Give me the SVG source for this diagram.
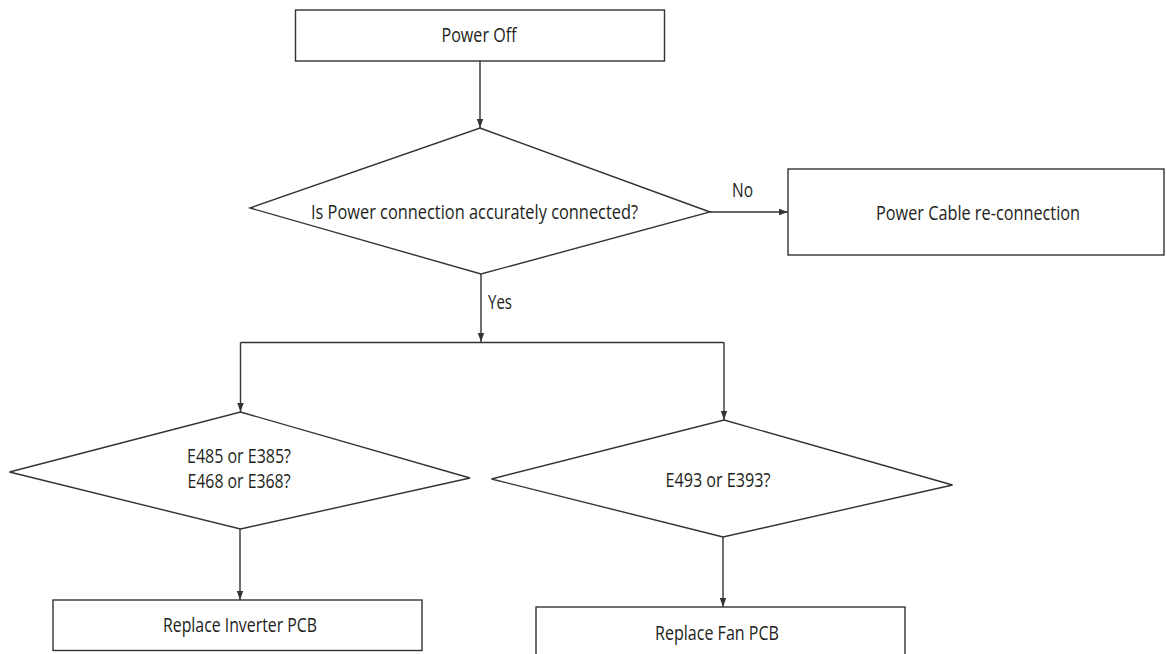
<svg xmlns="http://www.w3.org/2000/svg" width="1167" height="654" viewBox="0 0 1167 654">
<style>
.shape{fill:#ffffff;stroke:#333333;stroke-width:1.4}
.conn{fill:none;stroke:#333333;stroke-width:1.4}
.t{font-family:"Open Sans","Liberation Sans",sans-serif;font-size:20px;fill:#231f20;text-anchor:middle}
</style>
<defs>
<marker id="arr" markerUnits="userSpaceOnUse" markerWidth="10" markerHeight="8" refX="9" refY="4" orient="auto">
<path d="M0,0.8 L9,4 L0,7.2 Z" fill="#333333"/>
</marker>
</defs>
<rect width="1167" height="654" fill="#ffffff"/>
<g id="connectors">
<path class="conn" d="M480,61 V128" marker-end="url(#arr)"/>
<path class="conn" d="M710,212 H788" marker-end="url(#arr)"/>
<path class="conn" d="M481,274 V342" marker-end="url(#arr)"/>
<path class="conn" d="M240.5,342.5 H724"/>
<path class="conn" d="M240.5,342.5 V412" marker-end="url(#arr)"/>
<path class="conn" d="M724,342.5 V420" marker-end="url(#arr)"/>
<path class="conn" d="M240,529 V600" marker-end="url(#arr)"/>
<path class="conn" d="M723,537 V607" marker-end="url(#arr)"/>
<text class="t" x="742.5" y="197" textLength="21" lengthAdjust="spacingAndGlyphs">No</text>
<text class="t" x="500" y="309" textLength="24" lengthAdjust="spacingAndGlyphs">Yes</text>
</g>
<g id="power-off">
<rect class="shape" x="295.5" y="10" width="369" height="51"/>
<text class="t" x="479" y="42" textLength="75" lengthAdjust="spacingAndGlyphs">Power Off</text>
</g>
<g id="check-connection">
<polygon class="shape" points="480,128 710,212 481,274 250,208"/>
<text class="t" x="474.5" y="219" textLength="327" lengthAdjust="spacingAndGlyphs">Is Power connection accurately connected?</text>
</g>
<g id="power-cable">
<rect class="shape" x="788" y="169" width="376" height="86"/>
<text class="t" x="978" y="220" textLength="204" lengthAdjust="spacingAndGlyphs">Power Cable re-connection</text>
</g>
<g id="check-inverter">
<polygon class="shape" points="240.5,412 470,478 240.5,529 9.5,472"/>
<text class="t" x="239" y="463" textLength="104" lengthAdjust="spacingAndGlyphs">E485 or E385?</text>
<text class="t" x="239" y="488" textLength="103" lengthAdjust="spacingAndGlyphs">E468 or E368?</text>
</g>
<g id="check-fan">
<polygon class="shape" points="724,420 952.5,485 723,537 491.5,479"/>
<text class="t" x="718" y="487" textLength="105" lengthAdjust="spacingAndGlyphs">E493 or E393?</text>
</g>
<g id="replace-inverter">
<rect class="shape" x="53" y="600" width="369" height="50.5"/>
<text class="t" x="240" y="632" textLength="154" lengthAdjust="spacingAndGlyphs">Replace Inverter PCB</text>
</g>
<g id="replace-fan">
<rect class="shape" x="536" y="607" width="369" height="60"/>
<text class="t" x="717" y="640" textLength="124" lengthAdjust="spacingAndGlyphs">Replace Fan PCB</text>
</g>
</svg>
